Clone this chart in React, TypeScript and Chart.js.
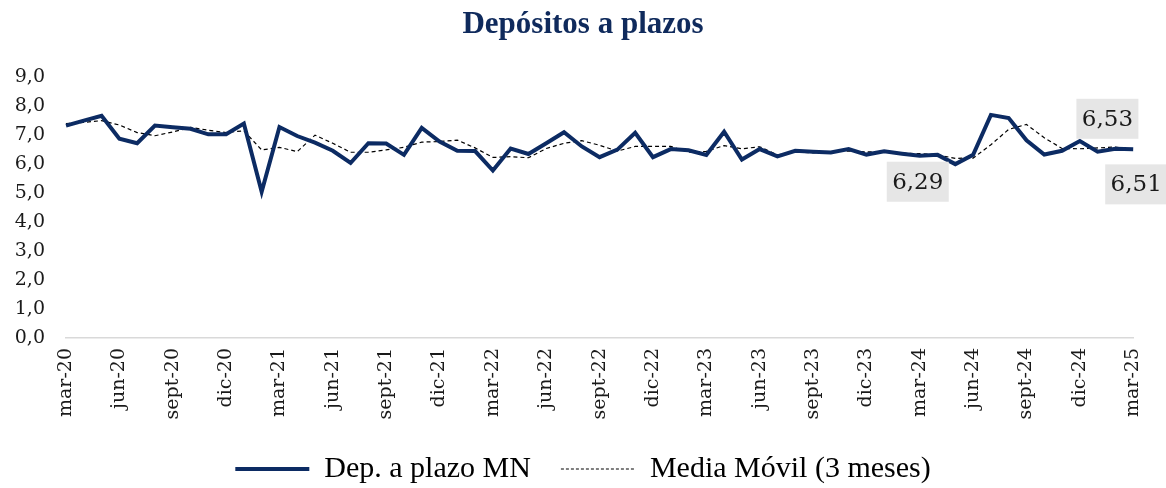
import { useEffect, useRef } from 'react';
import { Chart, registerables } from 'chart.js';

Chart.register(...registerables);

const months = [
  'mar-20', 'abr-20', 'may-20', 'jun-20', 'jul-20', 'ago-20', 'sept-20', 'oct-20', 'nov-20', 'dic-20',
  'ene-21', 'feb-21', 'mar-21', 'abr-21', 'may-21', 'jun-21', 'jul-21', 'ago-21', 'sept-21', 'oct-21', 'nov-21', 'dic-21',
  'ene-22', 'feb-22', 'mar-22', 'abr-22', 'may-22', 'jun-22', 'jul-22', 'ago-22', 'sept-22', 'oct-22', 'nov-22', 'dic-22',
  'ene-23', 'feb-23', 'mar-23', 'abr-23', 'may-23', 'jun-23', 'jul-23', 'ago-23', 'sept-23', 'oct-23', 'nov-23', 'dic-23',
  'ene-24', 'feb-24', 'mar-24', 'abr-24', 'may-24', 'jun-24', 'jul-24', 'ago-24', 'sept-24', 'oct-24', 'nov-24', 'dic-24',
  'ene-25', 'feb-25', 'mar-25',
];

const shownTickLabels = ['mar', 'jun', 'sept', 'dic'];

const depositos = [
  7.33, 7.50, 7.67, 6.88, 6.72, 7.33, 7.27, 7.22, 7.03, 7.03,
  7.40, 5.05, 7.28, 6.97, 6.74, 6.46, 6.04, 6.72, 6.71, 6.32,
  7.25, 6.78, 6.46, 6.45, 5.78, 6.54, 6.35, 6.72, 7.10, 6.61,
  6.24, 6.50, 7.08, 6.24, 6.52, 6.48, 6.32, 7.12, 6.16, 6.52,
  6.27, 6.46, 6.43, 6.40, 6.52, 6.33, 6.44, 6.36, 6.29, 6.32,
  6.00, 6.32, 7.70, 7.59, 6.82, 6.33, 6.46, 6.80, 6.43, 6.53,
  6.51,
];

const mediaMovil = [
  7.40, 7.44, 7.50, 7.35, 7.09, 6.98, 7.11, 7.27, 7.17, 7.09,
  7.15, 6.49, 6.58, 6.43, 7.00, 6.72, 6.41, 6.41, 6.49, 6.58,
  6.76, 6.78, 6.83, 6.56, 6.23, 6.26, 6.22, 6.54, 6.72, 6.81,
  6.65, 6.45, 6.61, 6.61, 6.61, 6.41, 6.44, 6.64, 6.53, 6.60,
  6.32, 6.42, 6.39, 6.43, 6.45, 6.42, 6.43, 6.38, 6.36, 6.32,
  6.20, 6.21, 6.67, 7.20, 7.37, 6.91, 6.54, 6.53, 6.56, 6.59,
  6.49,
];

const yTicks = [0, 1, 2, 3, 4, 5, 6, 7, 8, 9];

const valueLabels = [
  { index: 48, text: '6,29' },
  { index: 59, text: '6,53' },
  { index: 60, text: '6,51' },
];

// placement of the label boxes relative to their point (style only)
const labelPlacement: Record<number, { dx: number; dy: number }> = {
  48: { dx: -2, dy: 26 },
  59: { dx: -8, dy: -30 },
  60: { dx: 3, dy: 35 },
};

const labelBoxPlugin = {
  id: 'labelBoxes',
  afterDatasetsDraw(chart: any) {
    const meta = chart.getDatasetMeta(0);
    const ctx = chart.ctx;
    ctx.save();
    ctx.font = '23px "DejaVu Serif"';
    ctx.textAlign = 'center';
    ctx.textBaseline = 'middle';
    valueLabels.forEach((l) => {
      const pt = meta.data[l.index];
      if (!pt) return;
      const p = labelPlacement[l.index] || { dx: 0, dy: -30 };
      const cx = pt.x + p.dx;
      const cy = pt.y + p.dy;
      const w = 62;
      const h = 40;
      ctx.fillStyle = '#e6e6e6';
      ctx.fillRect(cx - w / 2, cy - h / 2, w, h);
      ctx.fillStyle = '#1a1a1a';
      ctx.fillText(l.text, cx, cy + 1);
    });
    ctx.restore();
  },
};

export default function App() {
  const canvasRef = useRef<HTMLCanvasElement | null>(null);

  useEffect(() => {
    if (!canvasRef.current) return;
    const chart = new Chart(canvasRef.current, {
      type: 'line',
      data: {
        labels: months,
        datasets: [
          {
            label: 'Dep. a plazo MN',
            data: depositos,
            borderColor: '#0c2b63',
            backgroundColor: 'transparent',
            borderWidth: 4,
            pointRadius: 0,
            pointStyle: 'line',
            tension: 0,
          },
          {
            label: 'Media Móvil (3 meses)',
            data: mediaMovil,
            borderColor: '#000000',
            backgroundColor: 'transparent',
            borderWidth: 1.2,
            borderDash: [4, 3],
            pointRadius: 0,
            pointStyle: 'line',
            tension: 0,
          },
        ],
      },
      options: {
        animation: false,
        responsive: true,
        maintainAspectRatio: false,
        layout: { padding: { left: 0, right: 0, top: 6, bottom: -6 } },
        plugins: {
          title: {
            display: true,
            text: 'Depósitos a plazos',
            color: '#0f2a5c',
            font: { family: '"Liberation Serif"', size: 31, weight: 'bold' },
            padding: { top: 0, bottom: 34 },
          },
          legend: {
            display: true,
            position: 'bottom',
            labels: {
              color: '#000000',
              font: { family: '"Liberation Serif"', size: 30 },
              usePointStyle: true,
              pointStyle: 'line',
              pointStyleWidth: 74,
              boxWidth: 74,
              boxHeight: 12,
              padding: 30,
              generateLabels: (chart: any) => {
                const items = Chart.defaults.plugins.legend.labels.generateLabels(chart);
                items.forEach((it: any) => {
                  const ds: any = chart.data.datasets[it.datasetIndex];
                  it.lineDash = ds.borderDash ? [3, 2] : [];
                  it.lineWidth = ds.borderWidth;
                  it.strokeStyle = ds.borderColor;
                  it.pointStyle = 'line';
                });
                return items;
              },
            },
          },
          tooltip: { enabled: false },
        },
        scales: {
          x: {
            type: 'category',
            grid: { display: false, drawTicks: false },
            border: { display: true, color: '#d9d9d9', width: 1.5 },
            ticks: {
              autoSkip: false,
              minRotation: 90,
              maxRotation: 90,
              padding: 10,
              color: '#1a1a1a',
              font: { family: '"DejaVu Serif"', size: 19 },
              callback: (_v: any, i: number) => {
                const m = months[i];
                return shownTickLabels.includes(m.split('-')[0]) ? m : '';
              },
            },
            afterFit: (scale: any) => {
              scale.height = 86;
            },
          },
          y: {
            min: 0,
            max: 9,
            grid: { display: false, drawTicks: false },
            border: { display: false },
            afterBuildTicks: (scale: any) => {
              scale.ticks = yTicks.map((v) => ({ value: v }));
            },
            ticks: {
              padding: 21,
              color: '#1a1a1a',
              font: { family: '"DejaVu Serif"', size: 19 },
              callback: (v: any) => Number(v).toFixed(1).replace('.', ','),
            },
            afterFit: (scale: any) => {
              scale.width = 66;
            },
          },
          ySpacer: {
            position: 'right',
            min: 0,
            max: 9,
            grid: { display: false, drawTicks: false },
            border: { display: false },
            ticks: { display: false },
            afterFit: (scale: any) => {
              scale.width = 24;
            },
          },
        },
      },
      plugins: [labelBoxPlugin],
    });
    return () => chart.destroy();
  }, []);

  return (
    <div style={{ position: 'absolute', left: 0, top: 0, width: 1166, height: 488, background: '#ffffff' }}>
      <canvas ref={canvasRef} />
    </div>
  );
}
